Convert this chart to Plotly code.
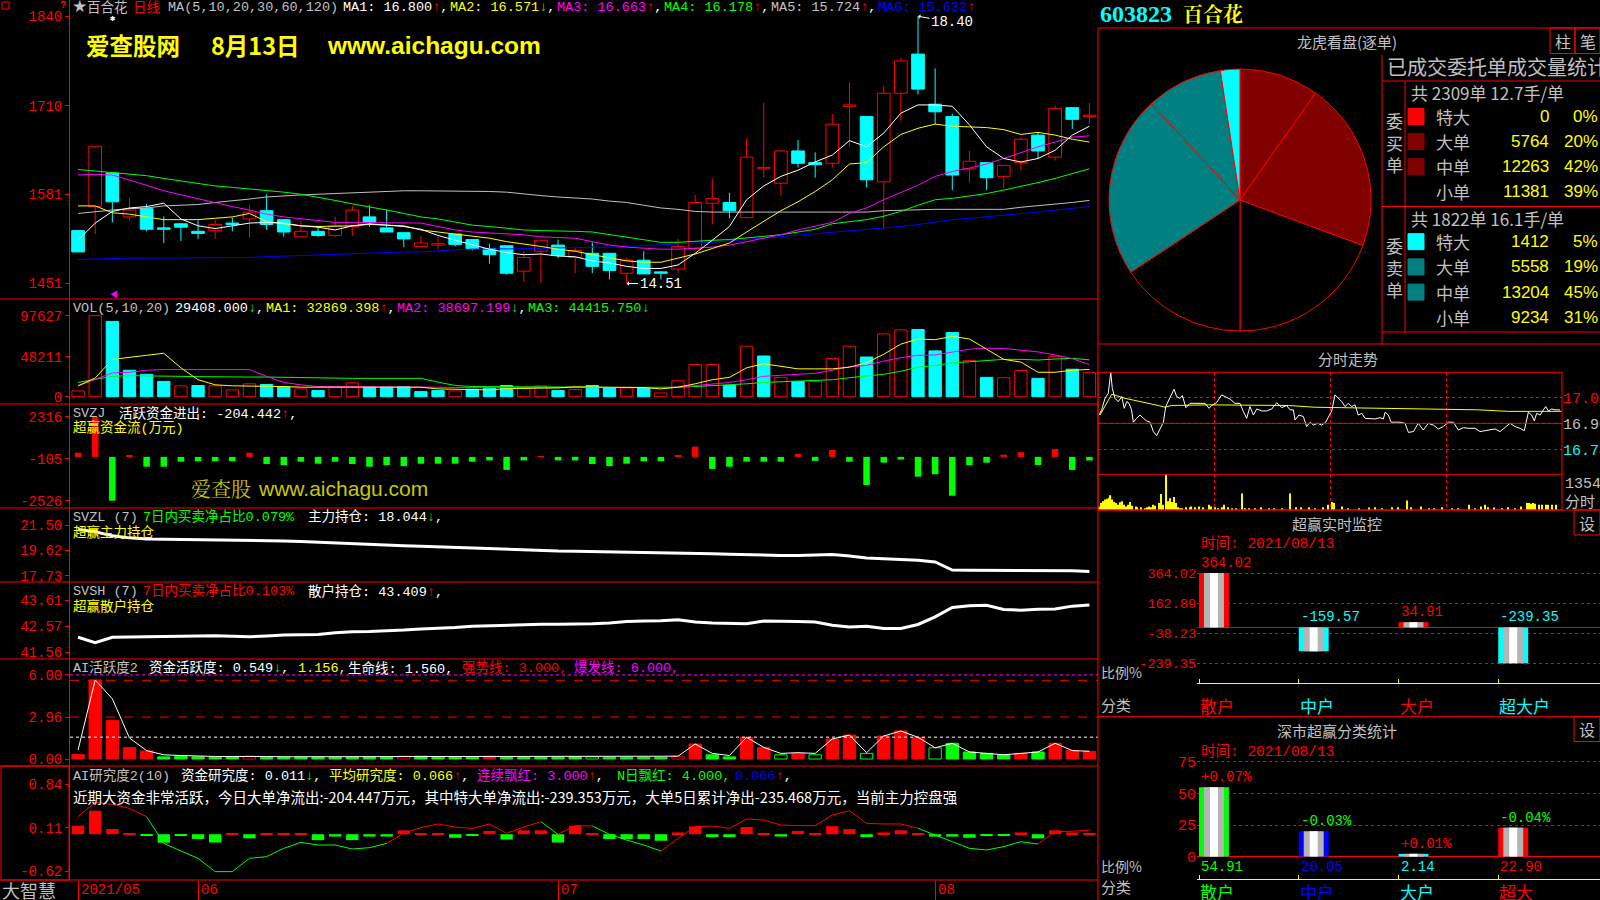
import plotly.graph_objects as go

W, H = 1600, 900
RED, CYAN, GREEN, YEL, MAG = '#ff0000', '#00ffff', '#00ff00', '#ffff00', '#ff00ff'
WHITE, GRAY, BLUE, BLACK = '#ffffff', '#c0c0c0', '#0000ff', '#000000'
MONO = 'Liberation Mono, Noto Sans CJK SC, monospace'
CJK = 'Noto Sans CJK SC, sans-serif'

# ------------------------------------------------------------------ data
DATE_TICKS = [0, 7, 28, 50]
DATE_LABELS = ["2021/05", "06", "07", "08"]

OPEN = [15.28, 15.63, 16.12, 15.48, 15.60, 15.31, 15.38, 15.27, 15.28, 15.38,
        15.45, 15.57, 15.44, 15.19, 15.27, 15.21, 15.34, 15.48, 15.32, 15.25,
        15.05, 15.07, 15.23, 15.15, 15.02, 15.06, 14.69, 14.98, 15.07, 14.89,
        14.95, 14.95, 14.66, 14.85, 14.67, 14.72, 15.02, 15.68, 15.69, 15.47,
        16.18, 15.97, 16.44, 16.27, 16.26, 17.09, 16.94, 15.99, 17.28, 17.85,
        17.12, 16.94, 16.18, 16.27, 16.07, 16.27, 16.67, 16.35, 17.07, 16.94]
HIGH = [15.28, 16.51, 16.12, 15.76, 15.67, 15.49, 15.38, 15.43, 15.44, 15.47,
        15.65, 15.81, 15.44, 15.42, 15.35, 15.48, 15.64, 15.65, 15.59, 15.25,
        15.20, 15.19, 15.23, 15.15, 15.09, 15.06, 14.98, 15.14, 15.15, 15.03,
        15.11, 14.95, 14.89, 14.98, 14.69, 15.16, 15.80, 16.04, 15.83, 16.62,
        17.14, 16.44, 16.60, 16.42, 16.98, 17.44, 16.94, 17.39, 17.80, 18.40,
        17.64, 16.98, 16.44, 16.27, 16.23, 16.64, 16.71, 17.10, 17.07, 17.14]
LOW = [14.97, 15.23, 15.40, 15.43, 15.27, 15.10, 15.13, 15.16, 15.16, 15.27,
       15.18, 15.29, 15.19, 15.19, 15.19, 15.19, 15.21, 15.34, 15.26, 15.04,
       15.05, 15.01, 15.05, 14.99, 14.80, 14.64, 14.53, 14.52, 14.88, 14.66,
       14.66, 14.57, 14.51, 14.65, 14.57, 14.66, 15.02, 15.37, 15.46, 15.46,
       16.05, 15.79, 16.20, 16.05, 16.20, 16.50, 15.91, 15.30, 16.88, 17.26,
       16.83, 15.87, 15.98, 15.87, 15.90, 16.16, 16.32, 16.30, 16.76, 16.84]
CLOSE = [14.97, 16.51, 15.70, 15.58, 15.30, 15.30, 15.33, 15.24, 15.37, 15.37,
         15.55, 15.37, 15.26, 15.27, 15.21, 15.35, 15.58, 15.40, 15.26, 15.16,
         15.10, 15.09, 15.08, 15.02, 14.93, 14.66, 14.89, 15.14, 14.92, 14.99,
         14.76, 14.70, 14.85, 14.65, 14.66, 15.05, 15.69, 15.75, 15.57, 16.35,
         16.20, 16.44, 16.26, 16.24, 16.83, 17.11, 16.02, 17.28, 17.75, 17.34,
         17.01, 16.09, 16.29, 16.05, 16.23, 16.61, 16.44, 17.06, 16.90, 16.96]
MA5 = [15.14, 15.39, 15.56, 15.61, 15.63, 15.68, 15.45, 15.35, 15.31, 15.35,
       15.39, 15.40, 15.39, 15.35, 15.33, 15.29, 15.35, 15.38, 15.36, 15.34,
       15.30, 15.21, 15.14, 15.07, 15.01, 14.96, 14.93, 14.94, 14.91, 14.90,
       14.84, 14.81, 14.76, 14.73, 14.73, 14.78, 14.95, 15.14, 15.34, 15.73,
       15.93, 16.07, 16.16, 16.28, 16.38, 16.59, 16.50, 16.70, 16.99, 17.11,
       17.11, 17.09, 16.82, 16.50, 16.33, 16.28, 16.33, 16.45, 16.67, 16.80]
MA10 = [15.64, 15.64, 15.54, 15.52, 15.48, 15.44, 15.44, 15.44, 15.46, 15.48,
        15.53, 15.41, 15.38, 15.35, 15.34, 15.34, 15.35, 15.37, 15.36, 15.35,
        15.29, 15.26, 15.24, 15.21, 15.17, 15.12, 15.09, 15.05, 15.01, 14.98,
        14.93, 14.88, 14.84, 14.82, 14.82, 14.88, 14.94, 15.02, 15.10, 15.26,
        15.41, 15.57, 15.70, 15.85, 16.02, 16.25, 16.27, 16.50, 16.68, 16.77,
        16.83, 16.80, 16.79, 16.78, 16.75, 16.68, 16.71, 16.67, 16.61, 16.57]
MA20 = [16.09, 16.10, 16.09, 16.02, 15.94, 15.86, 15.80, 15.74, 15.68, 15.63,
        15.58, 15.52, 15.48, 15.45, 15.42, 15.40, 15.40, 15.40, 15.40, 15.40,
        15.39, 15.34, 15.29, 15.26, 15.25, 15.24, 15.22, 15.19, 15.18, 15.17,
        15.12, 15.07, 15.04, 15.02, 15.01, 15.01, 15.02, 15.04, 15.07, 15.12,
        15.17, 15.22, 15.29, 15.34, 15.40, 15.53, 15.61, 15.73, 15.83, 15.94,
        16.07, 16.14, 16.19, 16.25, 16.33, 16.42, 16.50, 16.57, 16.64, 16.66]
MA30 = [16.17, 16.15, 16.13, 16.10, 16.08, 16.04, 16.00, 15.97, 15.93, 15.91,
        15.89, 15.86, 15.84, 15.81, 15.77, 15.72, 15.67, 15.63, 15.58, 15.53,
        15.48, 15.45, 15.40, 15.36, 15.34, 15.31, 15.29, 15.28, 15.28, 15.27,
        15.26, 15.22, 15.18, 15.14, 15.11, 15.11, 15.13, 15.14, 15.15, 15.17,
        15.19, 15.22, 15.26, 15.30, 15.38, 15.41, 15.44, 15.49, 15.56, 15.65,
        15.73, 15.75, 15.78, 15.82, 15.87, 15.92, 15.98, 16.04, 16.11, 16.18]
MA60 = [15.53, 15.56, 15.58, 15.60, 15.61, 15.64, 15.65, 15.66, 15.69, 15.71,
        15.74, 15.77, 15.79, 15.80, 15.81, 15.82, 15.84, 15.85, 15.86, 15.86,
        15.86, 15.86, 15.86, 15.86, 15.85, 15.84, 15.81, 15.79, 15.77, 15.76,
        15.74, 15.71, 15.69, 15.65, 15.61, 15.59, 15.56, 15.55, 15.55, 15.55,
        15.55, 15.55, 15.55, 15.55, 15.55, 15.55, 15.55, 15.57, 15.58, 15.59,
        15.59, 15.59, 15.59, 15.59, 15.59, 15.62, 15.64, 15.67, 15.69, 15.72]
MA120 = [14.86, 14.87, 14.87, 14.88, 14.88, 14.88, 14.88, 14.88, 14.88, 14.89,
         14.89, 14.90, 14.91, 14.91, 14.92, 14.93, 14.94, 14.95, 14.96, 14.97,
         14.97, 14.99, 15.00, 15.01, 15.01, 15.02, 15.02, 15.02, 15.03, 15.03,
         15.04, 15.04, 15.05, 15.06, 15.07, 15.08, 15.10, 15.11, 15.13, 15.15,
         15.17, 15.19, 15.22, 15.24, 15.26, 15.27, 15.29, 15.31, 15.34, 15.37,
         15.41, 15.44, 15.46, 15.48, 15.50, 15.52, 15.55, 15.58, 15.61, 15.63]
MA_LAST = [16.800, 16.571, 16.663, 16.178, 15.724, 15.632]
PRICE_TICKS = [18.40, 17.10, 15.81, 14.51]
HIGH_MARK = (49, 18.40)
LOW_MARK = (32, 14.51)

VOLUME = [6950, 97627, 90770, 31900, 26990, 18400, 13090, 13500, 13090, 8180,
          15540, 14720, 11450, 9400, 7360, 12270, 16770, 11450, 11450, 12270,
          6130, 7360, 6950, 9000, 10220, 13500, 9800, 13090, 7360, 8600,
          13500, 10630, 10630, 10630, 4500, 19220, 38850, 38850, 13500, 60930,
          49070, 23310, 18400, 18400, 46210, 60930, 47840, 75650, 80550, 80960,
          55200, 77280, 43750, 23310, 22900, 31490, 22080, 48660, 33120, 29408]
VOL_UP = [1, 1, 0, 0, 0, 0, 1, 0, 1, 1, 1, 0, 0, 1, 0, 1, 1, 0, 0, 0,
          0, 0, 1, 0, 0, 0, 1, 1, 0, 1, 0, 0, 1, 0, 1, 1, 1, 1, 0, 1,
          0, 1, 0, 1, 1, 1, 0, 1, 1, 0, 0, 0, 1, 0, 1, 1, 0, 1, 0, 1]
VMA5 = [13090, 22500, 44990, 47040, 49900, 52350, 34770, 20450, 14320, 13090,
        13090, 12270, 12270, 11450, 11450, 11450, 11450, 11450, 11450, 12270,
        11450, 9400, 9000, 8180, 8180, 9820, 9820, 10220, 10630, 11860,
        11450, 11450, 11040, 11040, 9400, 11450, 15540, 20450, 23310, 34770,
        39670, 36810, 33540, 33540, 33540, 35580, 40900, 51130, 63400, 69530,
        68710, 72800, 69530, 57260, 44990, 41720, 29450, 29450, 31900, 32870]
VMA10 = [13090, 20450, 28630, 29450, 31900, 32720, 32720, 32720, 31900, 31900,
         32720, 24540, 17180, 14320, 12270, 12270, 12270, 12270, 12270, 12270,
         11860, 11450, 11040, 11040, 10630, 10630, 10630, 10630, 10630, 10630,
         10220, 10630, 11040, 11040, 11040, 11450, 13090, 15540, 17180, 20450,
         24540, 25770, 26990, 28220, 31900, 35990, 37630, 42950, 47040, 49900,
         50310, 53990, 57260, 58490, 58080, 56030, 53990, 50310, 45810, 38700]
VMA20 = [17180, 21270, 24540, 25360, 25360, 24950, 24540, 24130, 23720, 23720,
         23720, 23720, 23310, 22500, 22500, 22500, 22090, 22090, 22090, 22090,
         22090, 17590, 13500, 12270, 12270, 12270, 12270, 11860, 11860, 11450,
         11450, 11040, 11040, 11040, 11040, 11450, 12270, 13090, 14320, 15540,
         17180, 18000, 18810, 19220, 20450, 22900, 24540, 26990, 30680, 35580,
         37630, 40900, 42130, 43760, 44990, 44990, 44170, 45400, 46220, 44420]
VMA_LAST = [32869.398, 38697.199, 44415.750]
VOL_TICKS = [97627, 48211, 0]

SVZJ = [240, 2316, -2526, 100, -565, -565, -275, -250, -250, -250,
        240, -410, -470, -275, -390, -275, -410, -565, -470, -530,
        -390, -390, -390, -275, -200, -750, -200, 50, -200, -200,
        -410, -530, -390, -250, -250, 100, 590, -690, -565, -275,
        -275, -275, 180, -230, 400, -275, -1620, -330, -150, -1140,
        -1000, -2235, -470, -330, 130, 270, -470, 450, -750, -204]
SVZJ_TICKS = [2316, -105, -2526]

SVZL = [21.17, 21.00, 20.70, 20.55, 20.47, 20.45, 20.44, 20.43, 20.42, 20.42,
        20.40, 20.38, 20.32, 20.28, 20.22, 20.18, 20.12, 20.07, 20.02, 19.97,
        19.93, 19.88, 19.86, 19.80, 19.74, 19.70, 19.66, 19.62, 19.57, 19.56,
        19.54, 19.50, 19.46, 19.44, 19.42, 19.40, 19.38, 19.36, 19.32, 19.28,
        19.25, 19.24, 19.24, 19.26, 19.30, 19.20, 19.05, 19.00, 18.96, 18.88,
        18.75, 18.15, 18.14, 18.13, 18.12, 18.12, 18.12, 18.14, 18.10, 18.04]
SVZL_TICKS = [21.50, 19.62, 17.73]
SVSH = [42.15, 41.94, 42.15, 42.16, 42.17, 42.17, 42.19, 42.20, 42.21, 42.19,
        42.17, 42.20, 42.24, 42.25, 42.26, 42.33, 42.37, 42.38, 42.40, 42.43,
        42.47, 42.49, 42.53, 42.58, 42.60, 42.64, 42.65, 42.66, 42.66, 42.66,
        42.68, 42.71, 42.77, 42.79, 42.80, 42.84, 42.75, 42.71, 42.70, 42.68,
        42.79, 42.79, 42.77, 42.75, 42.62, 42.55, 42.58, 42.49, 42.49, 42.65,
        42.95, 43.32, 43.38, 43.40, 43.24, 43.21, 43.25, 43.26, 43.37, 43.41]
SVSH_TICKS = [43.61, 42.57, 41.56]

ACT = [0.33, 5.64, 2.74, 0.81, 0.57, 0.15, 0.21, 0.15, 0.12, 0.15,
       0.20, 0.12, 0.12, 0.12, 0.12, 0.12, 0.12, 0.12, 0.12, 0.20,
       0.20, 0.12, 0.12, 0.12, 0.20, 0.12, 0.12, 0.12, 0.12, 0.15,
       0.15, 0.12, 0.12, 0.12, 0.12, 0.20, 1.07, 0.30, 0.15, 1.55,
       0.83, 0.30, 0.40, 0.30, 1.43, 1.71, 0.40, 1.64, 2.00, 1.55,
       0.80, 1.12, 0.50, 0.40, 0.30, 0.40, 0.50, 1.12, 0.60, 0.55]
ACT_KIND = "RRRRRGGGGGrGGGGGGGGrGGGGRGGGGGgGGGGrRGGRRgRgRRgRRRgGGGGRGRRR"
ACT_LINE = [0.64, 5.64, 4.30, 1.50, 0.60, 0.30, 0.25, 0.20, 0.18, 0.18,
            0.20, 0.18, 0.16, 0.16, 0.16, 0.16, 0.16, 0.16, 0.16, 0.18,
            0.18, 0.16, 0.16, 0.16, 0.18, 0.16, 0.16, 0.16, 0.16, 0.16,
            0.16, 0.16, 0.16, 0.16, 0.16, 0.20, 1.07, 0.40, 0.25, 1.55,
            0.83, 0.40, 0.45, 0.40, 1.43, 1.71, 0.45, 1.64, 2.00, 1.55,
            0.80, 1.12, 0.50, 0.40, 0.30, 0.40, 0.50, 1.12, 0.60, 0.55]
ACT_TICKS = [6.00, 2.96, 0.00]
ACT_LEVELS = [(6.0, MAG, 'dot'), (5.62, RED, 'dash'), (3.0, RED, 'dash'), (1.56, WHITE, 'dot')]

RES = [0.143, 0.395, 0.087, 0.02, -0.02, -0.143, -0.03, -0.08, -0.14, 0.01,
       -0.07, 0.01, 0.01, 0.01, -0.10, -0.04, -0.10, -0.04, -0.04, 0.065,
       0.02, 0.02, -0.06, -0.02, 0.055, -0.09, 0.065, 0.065, -0.14, 0.143,
       0.01, -0.08, -0.08, -0.08, -0.11, 0.03, 0.13, -0.05, -0.05, 0.12,
       0.02, -0.04, 0.055, 0.02, 0.135, 0.085, -0.05, 0.03, 0.065, 0.02,
       -0.04, -0.04, -0.06, -0.03, -0.03, 0.03, -0.07, 0.065, 0.03, 0.011]
RES_LINE = [0.295, 0.536, 0.502, 0.435, 0.295, -0.154, -0.283, -0.406, -0.630, -0.630,
            -0.406, -0.378, -0.238, -0.137, -0.182, -0.182, -0.249, -0.227, -0.154, 0.015,
            0.110, 0.172, 0.121, 0.099, 0.172, 0.015, 0.121, 0.211, -0.002, 0.144,
            0.138, -0.002, -0.098, -0.182, -0.283, -0.069, 0.127, 0.138, 0.099, 0.256,
            0.239, 0.155, 0.144, 0.144, 0.323, 0.396, 0.183, 0.172, 0.172, 0.099,
            -0.013, -0.126, -0.238, -0.266, -0.210, -0.126, -0.165, 0.043, 0.050, 0.066]
RES_LINE_RED = [1] * 5 + [0] * 14 + [1] * 9 + [0] + [1] * 2 + [0] * 4 + [1] * 15 + [0] * 7 + [1] * 3
RES_TICKS = [0.84, 0.11, -0.62]

# right side -------------------------------------------------------
PIE_LABELS = ["买特大", "买大单", "买中单", "买小单", "卖小单", "卖中单", "卖大单", "卖特大"]
PIE_VALUES = [0, 5764, 12263, 11381, 9234, 13204, 5558, 1412]
PIE_COLORS = [RED, '#800000', '#800000', BLACK, BLACK, '#008080', '#008080', CYAN]
ROW_LABELS = ["特大", "大单", "中单", "小单"]
BUY_VOL = [0, 5764, 12263, 11381]
SELL_VOL = [1412, 5558, 13204, 9234]
BUY_ORDERS, BUY_AVG = 2309, 12.7
SELL_ORDERS, SELL_AVG = 1822, 16.1
BUY_SWATCH = [RED, '#800000', '#800000', None]
SELL_SWATCH = [CYAN, '#008080', '#008080', None]

FS_T = [0, 1.4, 3.1, 4.8, 6.1, 6.9, 8.3, 10.0, 11.8, 13.1, 14.4, 15.6, 16.9, 17.8, 19.5, 21.3,
        23.0, 24.7, 26.5, 28.2, 29.9, 31.6, 33.4, 34.6, 36.8, 38.9, 40.3, 42.0, 43.2, 45.1,
        47.2, 49.8, 52.4, 55.0, 57.1, 58.4, 61.0, 63.6, 65.4, 68.0, 70.5, 73.1, 74.9, 76.6,
        78.3, 80.1, 81.8, 84.4, 87.0, 89.6, 92.2, 94.8, 97.3, 99.1, 100.8, 101.7, 103.7,
        106.0, 107.7, 109.5, 111.2, 113.4, 115.5, 117.6, 119.3, 120.7, 122.4, 124.1, 125.9,
        127.6, 129.3, 131.1, 132.8, 134.5, 136.3, 138.0, 141.4, 143.2, 145.8, 147.5, 148.4,
        150.1, 151.5, 153.5, 156.1, 158.7, 160.5, 163.1, 165.6, 168.2, 170.8, 173.4, 176.0,
        178.6, 181.2, 183.8, 186.4, 189.0, 191.6, 195.0, 197.6, 200.2, 202.8, 205.4, 208.0,
        210.6, 213.2, 215.8, 218.4, 220.6, 222.7, 224.4, 225.8, 227.0, 228.8, 230.5, 231.7,
        233.1, 234.8, 236.5, 239.1]
FS_P = [16.938, 16.962, 17.015, 17.038, 17.134, 17.061, 17.015, 17.000, 17.023, 16.969,
        17.000, 16.992, 16.962, 16.905, 16.923, 16.938, 16.923, 16.911, 16.905, 16.862,
        16.843, 16.877, 16.905, 16.977, 17.015, 17.057, 17.023, 17.015, 17.028, 16.972,
        16.992, 16.992, 16.995, 16.992, 16.969, 16.982, 16.995, 17.031, 17.023, 17.012,
        16.992, 16.992, 16.954, 16.923, 16.977, 16.938, 16.966, 16.957, 16.957, 16.966,
        16.995, 16.972, 16.982, 16.962, 16.962, 16.915, 16.938, 16.931, 16.885, 16.905,
        16.892, 16.900, 16.892, 16.905, 16.934, 16.957, 17.031, 17.018, 17.000, 16.977,
        16.992, 16.977, 16.985, 16.938, 16.946, 16.923, 16.923, 16.920, 16.926, 16.920,
        16.951, 16.938, 16.905, 16.905, 16.905, 16.900, 16.858, 16.862, 16.900, 16.869,
        16.900, 16.892, 16.874, 16.885, 16.905, 16.905, 16.869, 16.880, 16.877, 16.877,
        16.862, 16.866, 16.869, 16.874, 16.862, 16.882, 16.900, 16.885, 16.877, 16.866,
        16.951, 16.938, 16.911, 16.946, 16.938, 16.962, 16.977, 16.957, 16.966, 16.962,
        16.962]
FS_AT = [0.5, 6.6, 13.5, 22.1, 30.8, 34.2, 37.7, 56.7, 98.2, 112.0, 167.4, 196.8, 212.3, 240]
FS_AP = [16.938, 17.034, 17.015, 17.000, 16.982, 16.974, 16.982, 16.985, 16.982, 16.974,
         16.966, 16.962, 16.955, 16.955]
FS_VT = [0, 1, 2, 3, 4, 5, 6, 7, 8, 9, 10, 11, 12, 13, 14, 15, 16, 17, 19, 20, 22, 24, 25, 26,
         27, 28, 29, 31, 32, 33, 35, 36, 37, 38, 39, 40, 41, 42, 43, 45, 47, 48, 50, 52, 54, 57,
         58, 60, 62, 64, 65, 67, 69, 71, 74, 76, 78, 81, 84, 88, 91, 95, 99, 102, 105, 109, 112,
         116, 119, 121, 122, 126, 129, 135, 140, 143, 147, 152, 155, 160, 162, 167, 171, 174,
         178, 183, 186, 192, 195, 198, 200, 202, 205, 209, 212, 216, 219, 222, 223, 224, 225,
         226, 228, 230, 232, 233, 235, 237]
FS_VV = [134, 268, 335, 402, 428, 469, 562, 402, 308, 268, 201, 295, 335, 201, 134, 201, 308,
         161, 134, 107, 107, 67, 107, 134, 107, 201, 161, 268, 603, 201, 1354, 335, 442, 308,
         495, 268, 107, 67, 67, 107, 107, 134, 107, 134, 107, 201, 134, 107, 67, 107, 201, 107,
         67, 67, 629, 67, 67, 67, 107, 67, 67, 67, 629, 107, 107, 107, 67, 107, 201, 308, 268,
         134, 67, 67, 94, 107, 67, 107, 107, 362, 107, 134, 67, 67, 107, 67, 67, 201, 67, 134,
         201, 107, 94, 67, 107, 67, 134, 268, 268, 241, 268, 241, 201, 201, 201, 201, 201, 201]
FS_TICKS = [17.02, 16.90, 16.78]
FS_VMAX = 1354

MON_CATS = ["散户", "中户", "大户", "超大户"]
MON_VALS = [364.02, -159.57, 34.91, -239.35]
MON_TICKS = [364.02, 162.89, -38.23, -239.35]
CLS_CATS = ["散户", "中户", "大户", "超大"]
CLS_VALS = [54.91, 20.05, 2.14, 22.90]
CLS_CHG = [0.07, -0.03, 0.01, -0.04]
CLS_TICKS = [75, 50, 25, 0]
DATE_STR = "2021/08/13"

# ------------------------------------------------------------------ helpers
ANN, SH = [], []


def T(x, y, text, color, size=13.5, xa='left', ya='middle', fam=MONO, **kw):
    ANN.append(dict(x=x / W, y=1 - y / H, xref='paper', yref='paper', text=text, showarrow=False,
                    xanchor=xa, yanchor=ya, font=dict(color=color, size=size, family=fam), **kw))


def S(parts):
    return "".join(f'<span style="color:{c}">{t}</span>' for t, c in parts)


def L(x0, y0, x1, y1, color=RED, width=1, dash='solid'):
    SH.append(dict(type='line', xref='paper', yref='paper', x0=x0 / W, y0=1 - y0 / H,
                   x1=x1 / W, y1=1 - y1 / H, line=dict(color=color, width=width, dash=dash)))


def R(x0, y0, x1, y1, color=RED, fill=None):
    SH.append(dict(type='rect', xref='paper', yref='paper', x0=x0 / W, y0=1 - y1 / H,
                   x1=x1 / W, y1=1 - y0 / H, line=dict(color=color, width=1),
                   fillcolor=fill if fill else 'rgba(0,0,0,0)'))


fig = go.Figure()
N = len(CLOSE)
IDX = list(range(N))
up = [c >= o for o, c in zip(OPEN, CLOSE)]


def add(tr, xa='x', ya='y'):
    tr.update(xaxis=xa, yaxis=ya, hoverinfo='skip', showlegend=False)
    fig.add_trace(tr)


# ---------------- main candle panel
for flag, col in ((True, RED), (False, CYAN)):
    xs, ys = [], []
    for i in IDX:
        if up[i] != flag:
            continue
        top, bot = max(OPEN[i], CLOSE[i]), min(OPEN[i], CLOSE[i])
        if HIGH[i] > top:
            xs += [i, i, None]; ys += [top, HIGH[i], None]
        if LOW[i] < bot:
            xs += [i, i, None]; ys += [LOW[i], bot, None]
    add(go.Scatter(x=xs, y=ys, mode='lines', line=dict(color=col, width=1)))
add(go.Bar(x=IDX, base=[min(o, c) for o, c in zip(OPEN, CLOSE)],
           y=[max(abs(c - o), 0.02) for o, c in zip(OPEN, CLOSE)], width=0.74,
           marker=dict(color=[BLACK if u else CYAN for u in up],
                       line=dict(color=[RED if u else CYAN for u in up], width=1))))
for arr, col in ((MA120, BLUE), (MA60, GRAY), (MA30, GREEN), (MA20, MAG), (MA10, YEL), (MA5, WHITE)):
    add(go.Scatter(x=IDX, y=arr, mode='lines', line=dict(color=col, width=1)))

# ---------------- volume
add(go.Bar(x=IDX, y=VOLUME, width=0.72,
           marker=dict(color=[BLACK if u else CYAN for u in VOL_UP],
                       line=dict(color=[RED if u else CYAN for u in VOL_UP], width=1))), ya='y2')
for arr, col in ((VMA20, GREEN), (VMA10, MAG), (VMA5, YEL)):
    add(go.Scatter(x=IDX, y=arr, mode='lines', line=dict(color=col, width=1)), ya='y2')

# ---------------- SVZJ
add(go.Bar(x=IDX, y=SVZJ, width=0.38, marker=dict(color=[RED if v > 0 else GREEN for v in SVZJ],
                                                  line=dict(width=0))), ya='y3')
# ---------------- SVZL / SVSH
add(go.Scatter(x=IDX, y=SVZL, mode='lines', line=dict(color=WHITE, width=3)), ya='y4')
add(go.Scatter(x=IDX, y=SVSH, mode='lines', line=dict(color=WHITE, width=3)), ya='y5')

# ---------------- AI activity
for lv, col, dash in ACT_LEVELS:
    add(go.Scatter(x=[-0.47, 59.5], y=[lv, lv], mode='lines', line=dict(color=col, width=1, dash=dash)), ya='y6')
kind_fill = {'R': RED, 'G': GREEN, 'r': BLACK, 'g': BLACK}
kind_line = {'R': RED, 'G': GREEN, 'r': RED, 'g': GREEN}
add(go.Bar(x=IDX, y=ACT, width=0.72, marker=dict(color=[kind_fill[k] for k in ACT_KIND],
                                                 line=dict(color=[kind_line[k] for k in ACT_KIND], width=1))), ya='y6')
add(go.Scatter(x=IDX, y=ACT_LINE, mode='lines', line=dict(color=WHITE, width=1)), ya='y6')

# ---------------- AI research
add(go.Bar(x=IDX, y=RES, width=0.72, marker=dict(color=[RED if v > 0 else GREEN for v in RES],
                                                 line=dict(width=0))), ya='y7')
for flag, col in ((1, RED), (0, GREEN)):
    xs, ys = [], []
    for i in range(1, N):
        if RES_LINE_RED[i] == flag:
            xs += [i - 1, i, None]; ys += [RES_LINE[i - 1], RES_LINE[i], None]
    add(go.Scatter(x=xs, y=ys, mode='lines', line=dict(color=col, width=1)), ya='y7')

# ---------------- pie
fig.add_trace(go.Pie(labels=PIE_LABELS, values=PIE_VALUES, sort=False, direction='clockwise',
                     rotation=0, textinfo='none', hoverinfo='skip', showlegend=False,
                     marker=dict(colors=PIE_COLORS, line=dict(color=RED, width=1)),
                     domain=dict(x=[(1240 - 131) / W, (1240 + 131) / W],
                                 y=[1 - (200 + 131) / H, 1 - (200 - 131) / H])))

# ---------------- intraday
add(go.Bar(x=FS_VT, y=FS_VV, width=0.6, marker=dict(color=YEL, line=dict(width=0))), xa='x9', ya='y9')
add(go.Scatter(x=FS_AT, y=FS_AP, mode='lines', line=dict(color=YEL, width=1)), xa='x9', ya='y8')
add(go.Scatter(x=FS_T, y=FS_P, mode='lines', line=dict(color=WHITE, width=1)), xa='x9', ya='y8')


# ---------------- monitor bars
def striped(vals, edges, xa, ya):
    pos = list(range(len(vals)))
    add(go.Bar(x=pos, y=vals, width=0.30, marker=dict(color=edges, line=dict(width=0))), xa, ya)
    add(go.Bar(x=pos, y=vals, width=0.20, marker=dict(color='#b4b4b4', line=dict(width=0))), xa, ya)
    add(go.Bar(x=pos, y=vals, width=0.08, marker=dict(color=WHITE, line=dict(width=0))), xa, ya)


MON_EDGE = [RED, CYAN, RED, CYAN]
CLS_EDGE = [GREEN, BLUE, CYAN, RED]
striped(MON_VALS, MON_EDGE, 'x10', 'y10')
striped(CLS_VALS, CLS_EDGE, 'x11', 'y11')

for i, v in enumerate(MON_VALS):
    ANN.append(dict(x=i - 0.15, y=max(v, 0), xref='x10', yref='y10', text=f"{v:.2f}", showarrow=False,
                    xanchor='left', yanchor='bottom', font=dict(color=RED if v > 0 else CYAN, size=14, family=MONO)))
for i, v in enumerate(CLS_VALS):
    ch = CLS_CHG[i]
    ANN.append(dict(x=i - 0.15, y=v, xref='x11', yref='y11', text=f"{ch:+.2f}%", showarrow=False,
                    xanchor='left', yanchor='bottom', font=dict(color=RED if ch > 0 else GREEN, size=14, family=MONO)))
    ANN.append(dict(x=i - 0.15, y=0, xref='x11', yref='y11', text=f"{v:.2f}", showarrow=False,
                    xanchor='left', yanchor='top', font=dict(color=CLS_EDGE[i], size=14, family=MONO)))
for i, c in enumerate(MON_CATS):
    ANN.append(dict(x=i - 0.16, y=1 - 705.5 / H, xref='x10', yref='paper', text=c, showarrow=False,
                    xanchor='left', yanchor='middle', font=dict(color=MON_EDGE[i], size=17, family=CJK)))
for i, c in enumerate(CLS_CATS):
    ANN.append(dict(x=i - 0.16, y=1 - 891 / H, xref='x11', yref='paper', text=c, showarrow=False,
                    xanchor='left', yanchor='middle', font=dict(color=CLS_EDGE[i], size=17, family=CJK)))

# ------------------------------------------------------------------ axes
XR = [-0.47, 59.5]
LX = [70 / W, 1098 / W]


def ydom(a, b):
    return [1 - b / H, 1 - a / H]


def yleft(dom, rng, vals, text):
    return dict(domain=ydom(*dom), range=rng, anchor='x', side='left', tickvals=vals, ticktext=text,
                ticks='outside', ticklen=4, tickcolor=RED, tickfont=dict(color=RED, size=14, family=MONO),
                showgrid=False, zeroline=False, showline=True, linecolor=RED, linewidth=1, fixedrange=True,
                automargin=False)


layout = dict(
    width=W, height=H, margin=dict(l=0, r=0, t=0, b=0, pad=0, autoexpand=False),
    paper_bgcolor=BLACK, plot_bgcolor=BLACK,
    barmode='overlay', showlegend=False, hovermode=False,
    xaxis=dict(domain=LX, range=XR, anchor='free', position=1 - 880 / H, tickvals=DATE_TICKS,
               ticks='outside', ticklen=20, tickcolor=RED, showticklabels=False, showgrid=False,
               zeroline=False, showline=False, fixedrange=True, automargin=False),
    yaxis=yleft((0, 299), [14.285, 18.637], PRICE_TICKS, [f"{v * 100:.0f}" for v in PRICE_TICKS]),
    yaxis2=yleft((299, 404), [-8800, 117760], VOL_TICKS, [str(v) for v in VOL_TICKS]),
    yaxis3=yleft((404, 508), [-2945, 3049], SVZJ_TICKS, [str(v) for v in SVZJ_TICKS]),
    yaxis4=yleft((508, 582), [17.255, 22.78], SVZL_TICKS, [f"{v:.2f}" for v in SVZL_TICKS]),
    yaxis5=yleft((582, 659), [41.297, 44.316], SVSH_TICKS, [f"{v:.2f}" for v in SVSH_TICKS]),
    yaxis6=yleft((659, 766), [-0.5, 7.14], ACT_TICKS, [f"{v:.2f}" for v in ACT_TICKS]),
    yaxis7=yleft((766, 880), [-0.771, 1.148], RES_TICKS, [f"{v:.2f}" for v in RES_TICKS]),
    xaxis9=dict(domain=[1098 / W, 1562 / W], range=[-0.52, 240.15], anchor='y9', tickvals=[60, 120, 180],
                showgrid=True, gridcolor=RED, griddash='dot', gridwidth=1, showticklabels=False, ticks='',
                zeroline=False, showline=False, fixedrange=True, automargin=False),
    yaxis8=dict(domain=ydom(372.3, 474.3), range=[16.665, 17.135], anchor='x9', side='right',
                tickvals=FS_TICKS,
                ticktext=[f'<span style="color:{c}">{v:.2f}</span>' for v, c in zip(FS_TICKS, [RED, GRAY, CYAN])],
                tickfont=dict(size=15, family=MONO, color=GRAY), ticks='', showgrid=True, gridcolor=RED,
                griddash='dot', zeroline=False, showline=False, fixedrange=True, automargin=False),
    yaxis9=dict(domain=ydom(474.3, 510), range=[0, FS_VMAX], anchor='x9', side='right', showticklabels=False,
                ticks='', showgrid=False, zeroline=False, showline=False, fixedrange=True, automargin=False),
    xaxis10=dict(domain=[1197 / W, 1.0], range=[-0.17, 3.87], anchor='y10', tickvals=[-0.15, 0.85, 1.85, 2.85],
                 ticks='inside', ticklen=4, tickcolor=YEL, showticklabels=False, showgrid=False, zeroline=False,
                 showline=True, linecolor=YEL, fixedrange=True, automargin=False),
    yaxis10=dict(domain=ydom(555, 683), range=[-371.8, 484.4], anchor='x10', side='left', tickvals=MON_TICKS,
                 ticktext=[f"{v:.2f}" for v in MON_TICKS], tickfont=dict(color=RED, size=13.5, family=MONO),
                 ticks='', showgrid=True, gridcolor=RED, griddash='dot', zeroline=True, zerolinecolor=RED,
                 zerolinewidth=1, showline=False, fixedrange=True, automargin=False),
    xaxis11=dict(domain=[1197 / W, 1.0], range=[-0.17, 3.87], anchor='y11', tickvals=[-0.15, 0.85, 1.85, 2.85],
                 ticks='inside', ticklen=4, tickcolor=YEL, showticklabels=False, showgrid=False, zeroline=False,
                 showline=True, linecolor=YEL, fixedrange=True, automargin=False),
    yaxis11=dict(domain=ydom(745, 879), range=[-17.8, 88.4], anchor='x11', side='left', tickvals=CLS_TICKS,
                 ticktext=[str(v) for v in CLS_TICKS], tickfont=dict(color=RED, size=15, family=MONO),
                 ticks='', showgrid=True, gridcolor=RED, griddash='dot', zeroline=True, zerolinecolor=RED,
                 zerolinewidth=1, showline=False, fixedrange=True, automargin=False),
)

# ------------------------------------------------------------------ frame lines
for y in (299, 404, 508, 582, 659, 766, 880):
    L(0, y, 1098, y)
L(1098, 28, 1098, 900)
L(1098, 28, 1600, 28)
L(1382, 55, 1382, 344)
L(1382, 81, 1600, 81)
L(1405, 81, 1405, 332)
L(1382, 206.5, 1600, 206.5)
L(1382, 332, 1600, 332)
R(1550, 28, 1575, 53.5)
R(1575, 28, 1600, 53.5)
L(1098, 344, 1600, 344)
R(1098, 372.3, 1562, 510)
L(1098, 474.3, 1562, 474.3)
SH.append(dict(type='line', xref='paper', yref='y8', x0=1098 / W, x1=1562 / W, y0=CLOSE[-2], y1=CLOSE[-2],
               line=dict(color=RED, width=1)))
L(1098, 510, 1600, 510)
L(1098, 716.7, 1600, 716.7)
R(1574, 510, 1600, 535)
R(1574, 716.7, 1600, 741.5)
R(1, 766, 69, 880)
R(2, 2, 9, 9)

for k, (cb, cs) in enumerate(zip(BUY_SWATCH, SELL_SWATCH)):
    yb = 116.5 + 25.1 * k
    ys = 241.7 + 25.2 * k
    if cb:
        R(1408, yb - 8, 1424, yb + 8, color=cb, fill=cb)
    if cs:
        R(1408, ys - 8, 1424, ys + 8, color=cs, fill=cs)

# ------------------------------------------------------------------ text
MA_COL = [WHITE, YEL, MAG, GREEN, GRAY, BLUE]
MA_X = [341, 448, 555, 662, 769, 876]
MA_TREND = ["↑", "↓", "↑", "↑", "↑", "↑"]
hdr = [(71, "★", GRAY), (85, "百合花", GRAY), (131, "日线", RED), (166, "MA(5,10,20,30,60,120)", GRAY)]
for k in range(6):
    parts = [(f"MA{k + 1}: {MA_LAST[k]:.3f}", MA_COL[k]), (MA_TREND[k], RED if MA_TREND[k] == "↑" else GREEN)]
    if k < 5:
        parts.append((",", WHITE))
    hdr.append((MA_X[k], S(parts), WHITE))
for x, t, c in hdr:
    T(x, 8, t, c, size=13.5)
T(58, 5, "<b>?</b>", RED, size=11)
T(108, 19, "✱", WHITE, size=9)
T(108, 295, "◀", MAG, size=8)
T(84, 45, "<b>爱查股网</b>", YEL, size=23.5, fam=CJK)
T(209, 45, "<b>8月13日</b>", YEL, size=23.5, fam=CJK)
T(325, 45, "<b>www.aichagu.com</b>", YEL, size=24.5, fam='Liberation Sans, Arial, sans-serif')
ANN.append(dict(x=HIGH_MARK[0], y=HIGH_MARK[1], xref='x', yref='y', text=f"{HIGH_MARK[1]:.2f}", showarrow=True,
                ax=34, ay=6, arrowcolor=WHITE, arrowwidth=1, arrowhead=1, arrowsize=0.8,
                font=dict(color=WHITE, size=14, family=MONO)))
ANN.append(dict(x=LOW_MARK[0], y=LOW_MARK[1], xref='x', yref='y', text=f"{LOW_MARK[1]:.2f}", showarrow=True,
                ax=34, ay=0, arrowcolor=WHITE, arrowwidth=1, arrowhead=1, arrowsize=0.8,
                font=dict(color=WHITE, size=14, family=MONO)))

for x, t in [(71, S([("VOL(5,10,20)", GRAY)])),
             (173, S([(f"{VOLUME[-1]:.3f}", WHITE), ("↓", GREEN), (",", WHITE)])),
             (264, S([(f"MA1: {VMA_LAST[0]:.3f}", YEL), ("↑", RED), (",", WHITE)])),
             (395, S([(f"MA2: {VMA_LAST[1]:.3f}", MAG), ("↓", GREEN), (",", WHITE)])),
             (526, S([(f"MA3: {VMA_LAST[2]:.3f}", GREEN), ("↓", GREEN)]))]:
    T(x, 308, t, WHITE)
T(71, 414, S([("SVZJ", GRAY)]), GRAY)
T(117, 414, S([("活跃资金进出: -204.442", WHITE), ("↑", RED), (",", WHITE)]), WHITE)
T(71, 428, "超赢资金流(万元)", YEL)
T(189, 488, "爱查股", '#c8c800', size=20, fam='Noto Serif CJK SC, Noto Sans CJK SC, serif')
T(256, 488, "www.aichagu.com", '#c8c800', size=21, fam='Liberation Sans Narrow, Liberation Sans, sans-serif')
T(71, 517, "SVZL (7)", GRAY)
T(141, 517, "7日内买卖净占比0.079%", GREEN)
T(306, 517, S([("主力持仓: 18.044", WHITE), ("↓", GREEN), (",", WHITE)]), WHITE)
T(71, 532, "超赢主力持仓", YEL)
T(71, 591, "SVSH (7)", GRAY)
T(141, 591, "7日内买卖净占比0.103%", RED)
T(306, 591, S([("散户持仓: 43.409", WHITE), ("↑", RED), (",", WHITE)]), WHITE)
T(71, 606, "超赢散户持仓", YEL)
T(71, 668, "AI活跃度2", GRAY)
T(147, 668, S([("资金活跃度: 0.549", WHITE), ("↓", GREEN), (",", WHITE)]), WHITE)
T(296, 668, "1.156,", YEL)
T(346, 668, "生命线: 1.560,", WHITE)
T(460, 668, "强势线: 3.000,", RED)
T(572, 668, "爆发线: 6.000,", MAG)
T(71, 776, "AI研究度2(10)", GRAY)
T(179, 776, S([("资金研究度: 0.011", WHITE), ("↓", GREEN), (",", WHITE)]), WHITE)
T(327, 776, S([("平均研究度: 0.066", YEL), ("↑", RED), (",", WHITE)]), WHITE)
T(475, 776, S([("连续飘红: 3.000", MAG), ("↑", RED), (",", WHITE)]), WHITE)
T(615, 776, "N日飘红: 4.000,", GREEN)
T(733, 776, S([("0.066", BLUE), ("↑", RED), (",", WHITE)]), WHITE)
T(71, 796, "近期大资金非常活跃，今日大单净流出:-204.447万元，其中特大单净流出:-239.353万元，大单5日累计净出-235.468万元，当前主力控盘强",
  WHITE, size=14.5, fam=CJK)
T(0, 890, "大智慧", GRAY, size=18, fam=CJK)
for v, lab in zip(DATE_TICKS, DATE_LABELS):
    ANN.append(dict(x=v, y=1 - 890 / H, xref='x', yref='paper', text=lab, showarrow=False, xanchor='left',
                    yanchor='middle', xshift=1, font=dict(color=RED, size=14, family=MONO)))

T(1098, 14, "<b>603823</b>", CYAN, size=24, fam='Liberation Serif, serif')
T(1181, 14, "<b>百合花</b>", YEL, size=20, fam='Noto Serif CJK SC, Noto Sans CJK SC, serif')
T(1347, 41, "龙虎看盘(逐单)", GRAY, size=15, xa='center', fam=CJK)
T(1562.5, 41, "柱", GRAY, size=16, xa='center', fam=CJK)
T(1587.5, 41, "笔", GRAY, size=16, xa='center', fam=CJK)
T(1385, 67, "已成交委托单成交量统计", GRAY, size=20, fam=CJK)
T(1409, 92, f"共 {BUY_ORDERS}单 {BUY_AVG}手/单", GRAY, size=17, fam=CJK)
T(1409, 218, f"共 {SELL_ORDERS}单 {SELL_AVG}手/单", GRAY, size=17, fam=CJK)
T(1394, 142, "委<br>买<br>单", GRAY, size=17, xa='center', fam=CJK)
T(1394, 268, "委<br>卖<br>单", GRAY, size=17, xa='center', fam=CJK)
bt, st = sum(BUY_VOL), sum(SELL_VOL)
for k, lab in enumerate(ROW_LABELS):
    yb = 116.5 + 25.1 * k
    ys = 241.7 + 25.2 * k
    T(1434, yb, lab, GRAY, size=17, fam=CJK)
    T(1434, ys, lab, GRAY, size=17, fam=CJK)
    T(1551, yb, str(BUY_VOL[k]), YEL, size=17, xa='right', fam='Liberation Sans, sans-serif')
    T(1551, ys, str(SELL_VOL[k]), YEL, size=17, xa='right', fam='Liberation Sans, sans-serif')
    T(1600, yb, f"{round(100 * BUY_VOL[k] / bt)}%", YEL, size=17, xa='right', fam='Liberation Sans, sans-serif')
    T(1600, ys, f"{round(100 * SELL_VOL[k] / st)}%", YEL, size=17, xa='right', fam='Liberation Sans, sans-serif')

T(1348, 358, "分时走势", GRAY, size=15, xa='center', fam=CJK)
T(1563, 484, str(FS_VMAX), GRAY, size=15)
T(1563, 500, "分时", GRAY, size=15, fam=CJK)

T(1337, 523.5, "超赢实时监控", GRAY, size=15, xa='center', fam=CJK)
T(1587, 522.5, "设", GRAY, size=16, xa='center', fam=CJK)
T(1199, 543.5, f"时间: {DATE_STR}", RED, size=14.5)
T(1099, 672, "比例%", GRAY, size=14, fam=CJK)
T(1099, 704, "分类", GRAY, size=15, fam=CJK)
T(1337, 730, "深市超赢分类统计", GRAY, size=15, xa='center', fam=CJK)
T(1587, 729, "设", GRAY, size=16, xa='center', fam=CJK)
T(1199, 751, f"时间: {DATE_STR}", RED, size=14.5)
T(1099, 866, "比例%", GRAY, size=14, fam=CJK)
T(1099, 886, "分类", GRAY, size=15, fam=CJK)

layout['annotations'] = ANN
layout['shapes'] = SH
fig.update_layout(**layout)

POST = ("document.body.style.margin='0px';document.body.style.overflow='hidden';"
        "document.documentElement.style.overflow='hidden';")
fig.write_html("out.html", config={'displayModeBar': False}, post_script=POST)
